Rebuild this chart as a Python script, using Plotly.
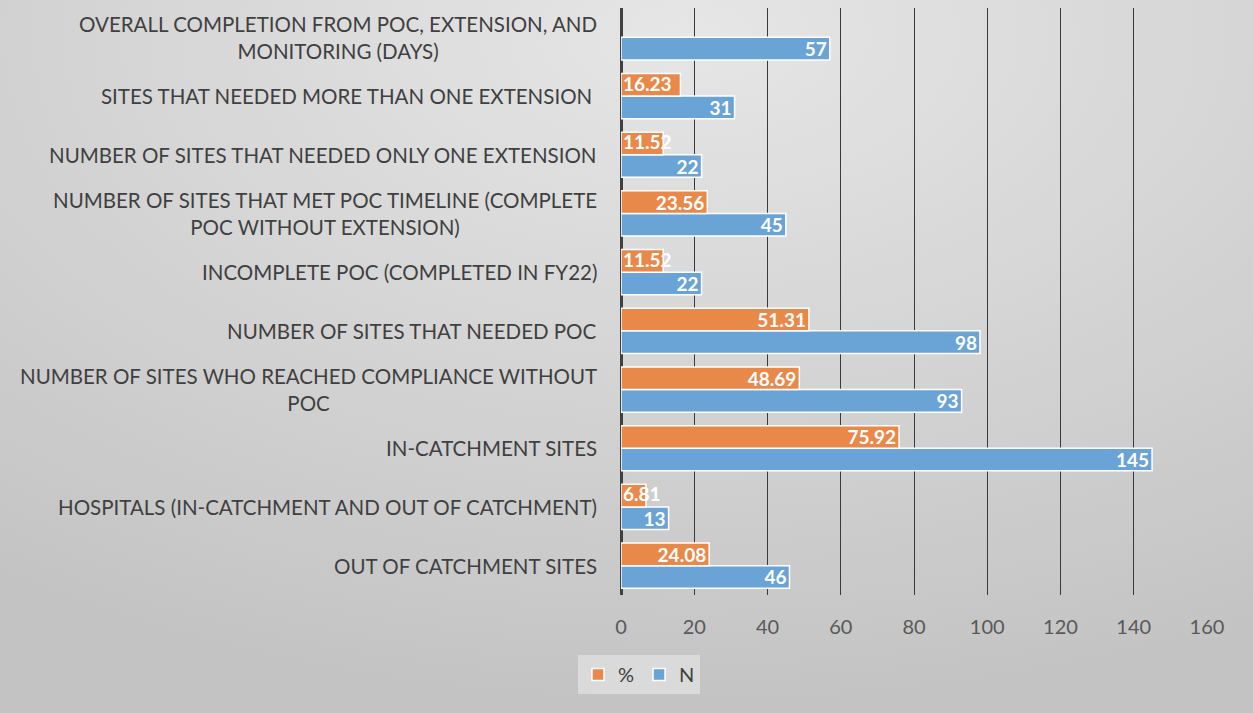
import base64
import plotly.graph_objects as go

categories = [
    "OUT OF CATCHMENT SITES",
    "HOSPITALS (IN-CATCHMENT AND OUT OF CATCHMENT)",
    "IN-CATCHMENT SITES",
    "NUMBER OF SITES WHO REACHED COMPLIANCE WITHOUT<br>POC",
    "NUMBER OF SITES THAT NEEDED POC",
    "INCOMPLETE POC (COMPLETED IN FY22)",
    "NUMBER OF SITES THAT MET POC TIMELINE (COMPLETE<br>POC WITHOUT EXTENSION)",
    "NUMBER OF SITES THAT NEEDED ONLY ONE EXTENSION",
    "SITES THAT NEEDED MORE THAN ONE EXTENSION ",
    "OVERALL COMPLETION FROM POC, EXTENSION, AND<br>MONITORING (DAYS)",
]
n_values = [46, 13, 145, 93, 98, 22, 45, 22, 31, 57]
pct_values = [24.08, 6.81, 75.92, 48.69, 51.31, 11.52, 23.56, 11.52, 16.23, None]
x_ticks = [0, 20, 40, 60, 80, 100, 120, 140, 160]

ORANGE = "#E8894A"
BLUE = "#6AA3D5"
FONT = "Lato"

W, H = 1253, 713
ML, MR, MT, MB = 621, 46, 8, 118
PW, PH = W - ML - MR, H - MT - MB

ids = list(range(len(categories)))

def fmt(v):
    return "" if v is None else (f"{v:g}")

small = 20  # labels that don't fit inside are drawn from the bar start
pct_text = [fmt(v) for v in pct_values]
pct_pos = ["inside" if (v is not None and v >= small) else "none" for v in pct_values]

LABEL_FONT = dict(color="white", size=19, family=FONT, weight="bold")

fig = go.Figure()
fig.add_trace(go.Bar(
    y=ids, x=n_values, orientation="h", name="N",
    marker=dict(color=BLUE, line=dict(color="white", width=1.5)),
    text=[fmt(v) for v in n_values], textposition="inside", insidetextanchor="end",
    constraintext="none", textangle=0,
    textfont=LABEL_FONT,
))
fig.add_trace(go.Bar(
    y=ids, x=pct_values, orientation="h", name="%",
    marker=dict(color=ORANGE, line=dict(color="white", width=1.5)),
    text=pct_text, textposition=pct_pos, insidetextanchor="end",
    constraintext="none", textangle=0,
    textfont=LABEL_FONT,
))

annotations = []
for i, (c, v) in enumerate(zip(categories, pct_values)):
    annotations.append(dict(
        x=0, y=i, xref="x", yref="y", text=c, xanchor="right", yanchor="middle",
        xshift=-22, align="center", showarrow=False,
        font=dict(family=FONT, size=20.5, color="#404040"),
    ))
    if v is not None and v < small:
        annotations.append(dict(
            x=0, y=i, xref="x", yref="y", text=fmt(v), xanchor="left", yanchor="middle",
            xshift=1, yshift=13, showarrow=False, borderpad=0,
            font=LABEL_FONT,
        ))

svg = (
    f'<svg xmlns="http://www.w3.org/2000/svg" width="{W}" height="{H}" viewBox="0 0 {W} {H}">'
    '<defs><radialGradient id="g" cx="0.55" cy="0.05" r="0.95" gradientUnits="objectBoundingBox">'
    '<stop offset="0" stop-color="#e6e6e6"/><stop offset="1" stop-color="#c3c3c3"/>'
    '</radialGradient></defs>'
    f'<rect x="0" y="0" width="{W}" height="{H}" fill="url(#g)"/></svg>'
)
src = "data:image/svg+xml;base64," + base64.b64encode(svg.encode()).decode()

fig.update_layout(
    width=W, height=H,
    margin=dict(l=ML, r=MR, t=MT, b=MB),
    paper_bgcolor="#d6d6d6", plot_bgcolor="rgba(0,0,0,0)",
    barmode="group", bargap=0.23, bargroupgap=0.0,
    showlegend=True,
    legend=dict(
        orientation="h", x=-43 / PW, xanchor="left", y=-60 / PH, yanchor="top",
        bgcolor="#dadada", traceorder="reversed",
        font=dict(family=FONT, size=20, color="#404040"),
        itemwidth=30,
    ),
    font=dict(family=FONT),
    annotations=annotations,
    images=[dict(
        source=src, xref="paper", yref="paper",
        x=-ML / PW, y=1 + MT / PH, sizex=W / PW, sizey=H / PH,
        xanchor="left", yanchor="top", sizing="stretch", layer="below",
    )],
    xaxis=dict(
        range=[0, 160], tickvals=x_ticks, showgrid=False,
        zeroline=True, zerolinecolor="#404040", zerolinewidth=3,
        tickfont=dict(family=FONT, size=20, color="#595959"),
        ticks="", showline=False, ticklabelstandoff=18,
    ),
    xaxis2=dict(
        range=[0, 160], overlaying="x", tickvals=x_ticks[1:-1], showgrid=True,
        gridcolor="#3a3a3a", gridwidth=1, showticklabels=False, zeroline=False,
        ticks="",
    ),
    yaxis=dict(
        range=[-0.5, len(categories) - 0.5], showticklabels=False, showgrid=False,
        zeroline=False, ticks="",
    ),
)
# empty trace that activates the gridline axis
fig.add_trace(go.Scatter(x=[None], y=[None], xaxis="x2", showlegend=False, hoverinfo="skip"))

fig.write_html("out.html", config={"displayModeBar": False},
               post_script="document.body.style.margin='0';")
